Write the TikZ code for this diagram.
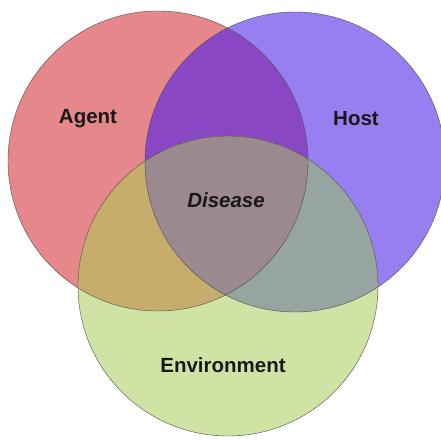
\documentclass[tikz,border=0pt]{standalone}
\usepackage{fontspec}
\setmainfont{Liberation Sans}
\definecolor{agentred}{HTML}{E6878C}
\definecolor{hostblue}{HTML}{977FF2}
\definecolor{envgreen}{HTML}{CFE3A4}
\definecolor{agenthost}{HTML}{8A47C4}
\definecolor{agentenv}{HTML}{C7AD6C}
\definecolor{hostenv}{HTML}{97A5A1}
\definecolor{allthree}{HTML}{9A8A90}
\begin{document}
\begin{tikzpicture}[x=1pt,y=-1pt,
    label/.style={font=\fontsize{20.5}{24}\selectfont\bfseries,text=black!90}]
    \useasboundingbox (0,0) rectangle (441,439);
    \fill[white] (0,0) rectangle (441,439);
    \def\agentc{(158,161) circle (150)}
    \def\hostc{(295,162) circle (150)}
    \def\envc{(228,286) circle (150)}
    \fill[agentred] \agentc;
    \fill[hostblue] \hostc;
    \fill[envgreen] \envc;
    % pairwise overlaps
    \begin{scope}
      \clip \agentc;
      \fill[agenthost] \hostc;
      \fill[agentenv] \envc;
    \end{scope}
    \begin{scope}
      \clip \hostc;
      \fill[hostenv] \envc;
    \end{scope}
    % middle
    \begin{scope}
      \clip \agentc;
      \clip \hostc;
      \fill[allthree] \envc;
    \end{scope}
    \draw[black!70,thin] \agentc;
    \draw[black!70,thin] \hostc;
    \draw[black!70,thin] \envc;
    \node[label] (agent) at (88,119) {Agent};
    \node[label] (host) at (356,119) {Host};
    \node[label,font=\fontsize{20.5}{24}\selectfont\bfseries\itshape] (disease) at (226,200) {Disease};
    \node[label] (env) at (223,365) {Environment};
  \end{tikzpicture}
\end{document}
